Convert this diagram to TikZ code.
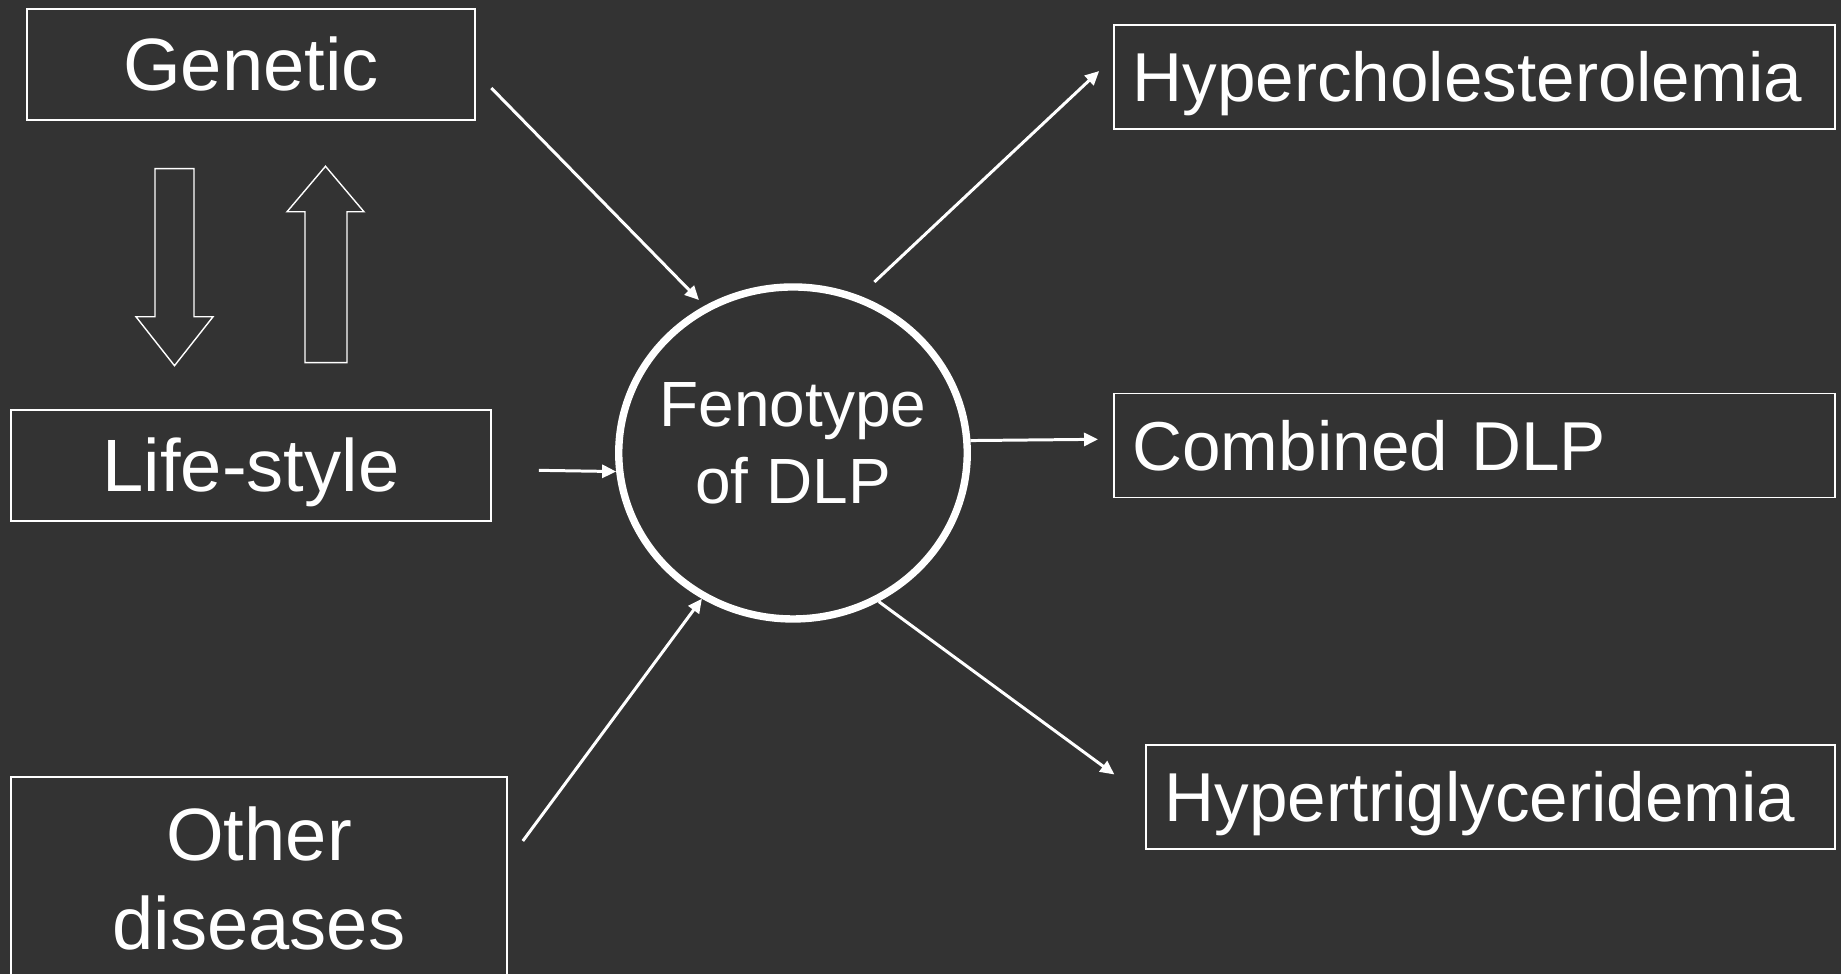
\documentclass[tikz,border=0pt]{standalone}
\usepackage{fontspec}
\setmainfont{Liberation Sans}
\usepackage{tikz}
\usetikzlibrary{arrows.meta,shapes.geometric}
\usepackage{xcolor}
\definecolor{slate}{HTML}{333333}

\begin{document}
\begin{tikzpicture}[
    cause/.style={rectangle, draw=white, line width=0.55pt, text=white, inner sep=0pt,
      align=center, font=\fontsize{21.1pt}{25.3pt}\selectfont},
    onecause/.style={cause, text height=0.53cm, text depth=0pt},
    effect/.style={rectangle, draw=white, line width=0.55pt, text=white, inner xsep=0.185cm,
      inner ysep=0pt, align=left, minimum height=1.04cm, text height=0.496cm, text depth=0pt,
      font=\fontsize{19.7pt}{23.6pt}\selectfont},
    hub/.style={ellipse, draw=white, line width=2.1pt, minimum width=3.485cm, minimum height=3.32cm, inner sep=0pt},
    hubtxt/.style={text=white, align=center, font=\fontsize{18.2pt}{21.9pt}\selectfont},
    arr/.style={-{Triangle[length=0.14cm, width=0.13cm]}, white, line width=0.85pt},
    blockarr/.style={draw=white, line width=0.4pt, line join=miter}
  ]

  %% ---- background ----
  \useasboundingbox (0,0) rectangle (18.41,9.74);
  \fill[slate] (0,0) rectangle (18.41,9.74);

  %% Causes
  \node[onecause, minimum width=4.48cm, minimum height=1.11cm] (genetic) at (2.51,9.095) {Genetic};
  \node[onecause, minimum width=4.80cm, minimum height=1.11cm] (lifesty) at (2.51,5.086) {Life-style};
  \node[cause, minimum width=4.96cm, minimum height=2.03cm] (other) at (2.59,0.955) {Other\\diseases};

  %% Two-way block arrows (genetic <-> life-style)
  \draw[blockarr] (1.55,8.053) -- (1.94,8.053) -- (1.94,6.572) -- (2.13,6.572) -- (1.745,6.083)
    -- (1.36,6.572) -- (1.55,6.572) -- cycle;
  \draw[blockarr] (3.05,6.114) -- (3.47,6.114) -- (3.47,7.622) -- (3.64,7.622) -- (3.255,8.077)
    -- (2.87,7.622) -- (3.05,7.622) -- cycle;

  %% Phenotype
  \node[hub] (feno) at (7.93,5.21) {};
  \node[hubtxt] (fenotxt) at ([yshift=0.095cm]feno.center) {Fenotype\\of DLP};

  %% Outcomes
  \node[effect, text width=6.84cm] (hyperchol) at (14.745,8.97) {Hypercholesterolemia};
  \node[effect, text width=6.84cm] (combined) at (14.745,5.285) {Combined DLP};
  \node[effect, text width=6.52cm] (hypertrig) at (14.905,1.77) {Hypertriglyceridemia};

  %% Connections in
  \draw[arr, shorten <=0.22cm, shorten >=0.08cm] (genetic.-2.2) -- (feno.121);
  \draw[arr, shorten <=0.47cm] (lifesty.-1.5) -- (feno.186);
  \draw[arr, shorten <=0.25cm] (other.4) -- (feno.238);

  %% Connections out
  \draw[arr, shorten <=0.2cm, shorten >=0.19cm] (feno.67) -- (hyperchol.177);
  \draw[arr, shorten >=0.15cm] (feno.4) -- (combined.179.3);
  \draw[arr, shorten >=0.38cm] (feno.-60) -- (hypertrig.west);

\end{tikzpicture}
\end{document}
